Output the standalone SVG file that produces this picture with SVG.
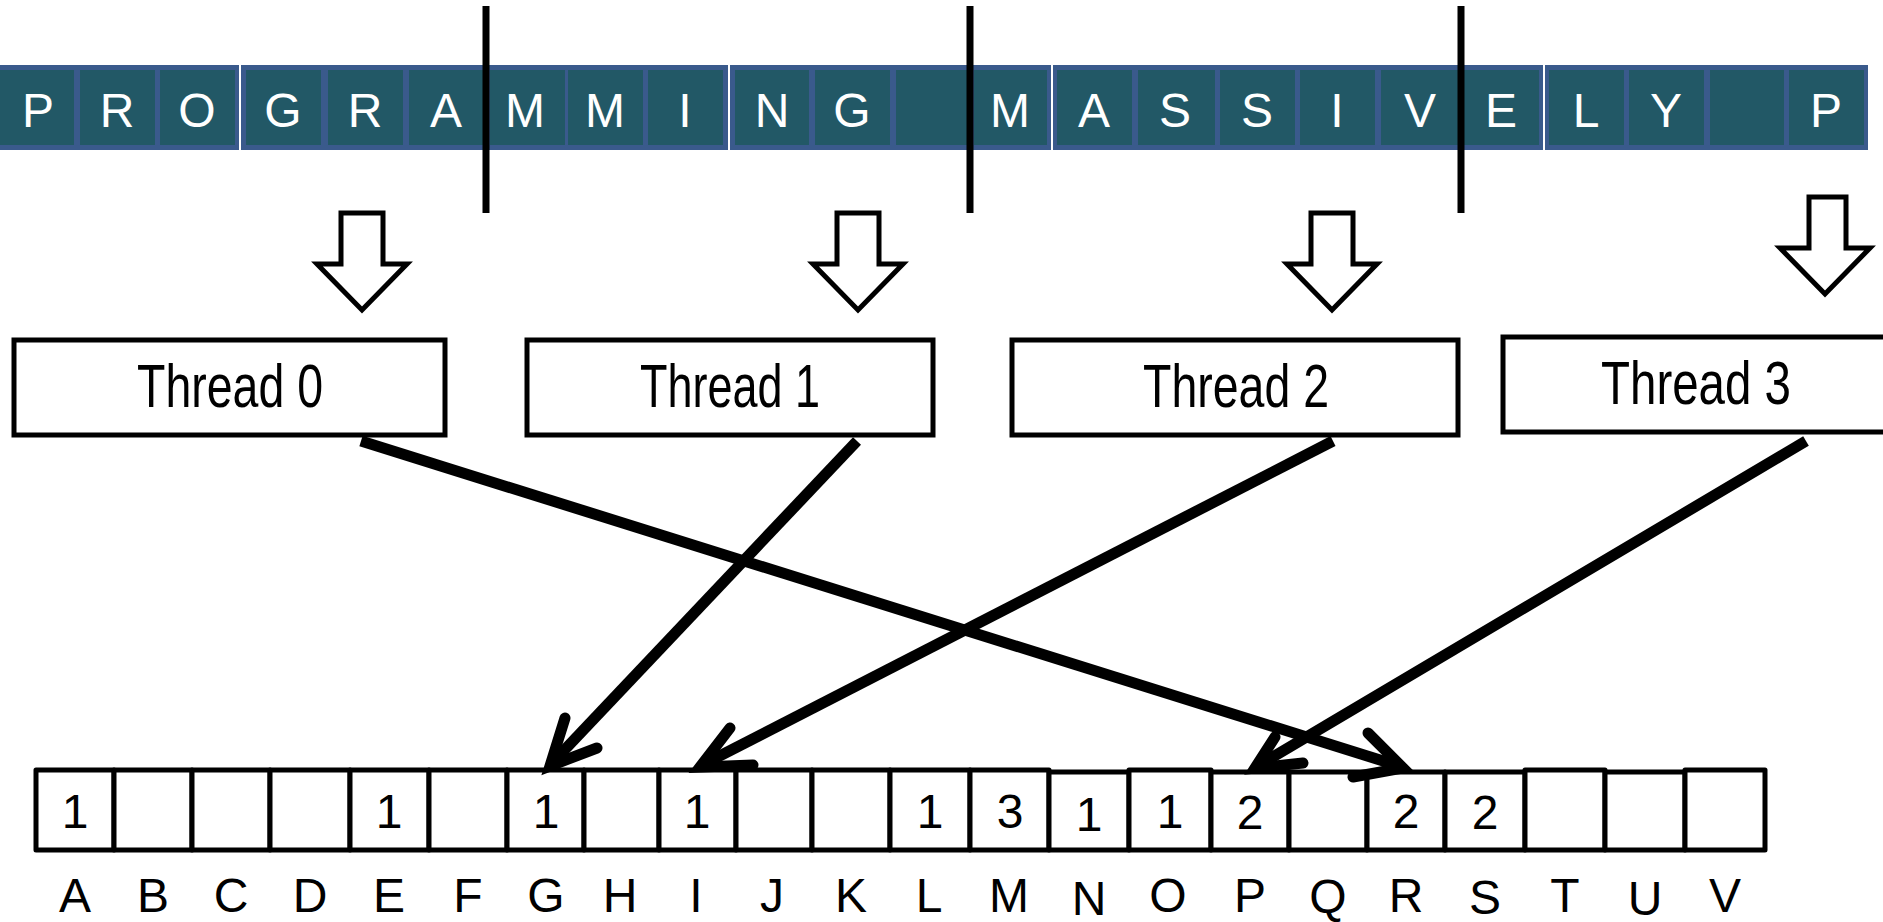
<svg xmlns="http://www.w3.org/2000/svg" width="1883" height="922" viewBox="0 0 1883 922">
<style>
.grp{fill:#3A5A8C}
.cell{fill:#225866}
.ct{font-family:"Liberation Sans",Arial,sans-serif;font-size:48px;fill:#ffffff;text-anchor:middle}
.div{stroke:#000;stroke-width:7}
.blk{fill:#fff;stroke:#000;stroke-width:5;stroke-linejoin:miter}
.tbox{fill:#fff;stroke:#000;stroke-width:5}
.tt{font-family:"Liberation Sans",Arial,sans-serif;font-size:61px;fill:#000;text-anchor:middle}
.line{fill:none;stroke:#000;stroke-width:11;stroke-linecap:butt}
.head{fill:none;stroke:#000;stroke-width:11;stroke-linecap:round;stroke-linejoin:miter}
.acell{fill:#fff;stroke:#000;stroke-width:5;stroke-linejoin:round}
.num{font-family:"Liberation Sans",Arial,sans-serif;font-size:48px;fill:#000;text-anchor:middle}
.lab{font-family:"Liberation Sans",Arial,sans-serif;font-size:48px;fill:#000;text-anchor:middle}
</style>
<rect width="1883" height="922" fill="#fff"/>

<g id="input-bar">
  <rect class="grp" x="-3" y="65" width="242" height="85"/>
  <rect class="grp" x="241" y="65" width="487" height="85"/>
  <rect class="grp" x="730" y="65" width="321" height="85"/>
  <rect class="grp" x="1053" y="65" width="490" height="85"/>
  <rect class="grp" x="1545" y="65" width="323" height="85"/>
  <rect class="cell" x="0" y="70" width="74" height="75"/>
  <rect class="cell" x="80" y="70" width="75" height="75"/>
  <rect class="cell" x="160" y="70" width="75" height="75"/>
  <rect class="cell" x="246" y="70" width="75" height="75"/>
  <rect class="cell" x="328" y="70" width="75" height="75"/>
  <rect class="cell" x="409" y="70" width="75" height="75"/>
  <rect class="cell" x="490" y="70" width="75" height="75"/>
  <rect class="cell" x="568" y="70" width="75" height="75"/>
  <rect class="cell" x="648" y="70" width="75" height="75"/>
  <rect class="cell" x="735" y="70" width="74" height="75"/>
  <rect class="cell" x="815" y="70" width="75" height="75"/>
  <rect class="cell" x="896" y="70" width="74" height="75"/>
  <rect class="cell" x="974" y="70" width="73" height="75"/>
  <rect class="cell" x="1057" y="70" width="75" height="75"/>
  <rect class="cell" x="1138" y="70" width="77" height="75"/>
  <rect class="cell" x="1220" y="70" width="75" height="75"/>
  <rect class="cell" x="1300" y="70" width="75" height="75"/>
  <rect class="cell" x="1381" y="70" width="77" height="75"/>
  <rect class="cell" x="1463" y="70" width="76" height="75"/>
  <rect class="cell" x="1549" y="70" width="75" height="75"/>
  <rect class="cell" x="1629" y="70" width="75" height="75"/>
  <rect class="cell" x="1710" y="70" width="74" height="75"/>
  <rect class="cell" x="1789" y="70" width="75" height="75"/>
  <text class="ct" x="38" y="127">P</text>
  <text class="ct" x="117" y="127">R</text>
  <text class="ct" x="197" y="127">O</text>
  <text class="ct" x="283" y="127">G</text>
  <text class="ct" x="365" y="127">R</text>
  <text class="ct" x="446" y="127">A</text>
  <text class="ct" x="525" y="127">M</text>
  <text class="ct" x="605" y="127">M</text>
  <text class="ct" x="685" y="127">I</text>
  <text class="ct" x="772" y="127">N</text>
  <text class="ct" x="852" y="127">G</text>
  <text class="ct" x="1010" y="127">M</text>
  <text class="ct" x="1094" y="127">A</text>
  <text class="ct" x="1175" y="127">S</text>
  <text class="ct" x="1257" y="127">S</text>
  <text class="ct" x="1337" y="127">I</text>
  <text class="ct" x="1420" y="127">V</text>
  <text class="ct" x="1501" y="127">E</text>
  <text class="ct" x="1586" y="127">L</text>
  <text class="ct" x="1666" y="127">Y</text>
  <text class="ct" x="1826" y="127">P</text>
</g>

<g id="dividers">
  <line class="div" x1="486" y1="6" x2="486" y2="213"/>
  <line class="div" x1="970" y1="6" x2="970" y2="213"/>
  <line class="div" x1="1461" y1="6" x2="1461" y2="213"/>
</g>

<g id="block-arrows">
  <path class="blk" d="M341,213 H383 V264 H407 L362,310 L317,264 H341 Z"/>
  <path class="blk" d="M837,213 H879 V264 H903 L858,310 L813,264 H837 Z"/>
  <path class="blk" d="M1311,213 H1353 V264 H1377 L1332,310 L1287,264 H1311 Z"/>
  <path class="blk" d="M1809,197 H1846 V248 H1870 L1825,294 L1780,248 H1809 Z"/>
</g>

<g id="thread0">
  <rect class="tbox" x="14" y="340" width="431" height="95"/>
  <text class="tt" x="230" y="407" textLength="186" lengthAdjust="spacingAndGlyphs">Thread 0</text>
</g>
<g id="thread1">
  <rect class="tbox" x="527" y="340" width="406" height="95"/>
  <text class="tt" x="730" y="407" textLength="180" lengthAdjust="spacingAndGlyphs">Thread 1</text>
</g>
<g id="thread2">
  <rect class="tbox" x="1012" y="340" width="446" height="95"/>
  <text class="tt" x="1236" y="407" textLength="186" lengthAdjust="spacingAndGlyphs">Thread 2</text>
</g>
<g id="thread3">
  <rect class="tbox" x="1503" y="337" width="400" height="95"/>
  <text class="tt" x="1696" y="404" textLength="190" lengthAdjust="spacingAndGlyphs">Thread 3</text>
</g>

<g id="histogram">
  <rect class="acell" x="36" y="770" width="78" height="80"/>
  <rect class="acell" x="114" y="770" width="78" height="80"/>
  <rect class="acell" x="192" y="770" width="78" height="80"/>
  <rect class="acell" x="270" y="770" width="80" height="80"/>
  <rect class="acell" x="350" y="770" width="79" height="80"/>
  <rect class="acell" x="429" y="770" width="78" height="80"/>
  <rect class="acell" x="507" y="770" width="77" height="80"/>
  <rect class="acell" x="584" y="770" width="75" height="80"/>
  <rect class="acell" x="659" y="770" width="77" height="80"/>
  <rect class="acell" x="736" y="770" width="76" height="80"/>
  <rect class="acell" x="812" y="770" width="78" height="80"/>
  <rect class="acell" x="890" y="770" width="80" height="80"/>
  <rect class="acell" x="970" y="770" width="79" height="80"/>
  <rect class="acell" x="1049" y="772" width="80" height="78"/>
  <rect class="acell" x="1129" y="770" width="82" height="80"/>
  <rect class="acell" x="1211" y="772" width="78" height="78"/>
  <rect class="acell" x="1289" y="772" width="78" height="78"/>
  <rect class="acell" x="1367" y="772" width="78" height="78"/>
  <rect class="acell" x="1445" y="772" width="80" height="78"/>
  <rect class="acell" x="1525" y="770" width="80" height="80"/>
  <rect class="acell" x="1605" y="772" width="80" height="78"/>
  <rect class="acell" x="1685" y="770" width="80" height="80"/>
  <text class="num" x="75" y="828">1</text>
  <text class="num" x="389" y="828">1</text>
  <text class="num" x="546" y="828">1</text>
  <text class="num" x="697" y="828">1</text>
  <text class="num" x="930" y="828">1</text>
  <text class="num" x="1010" y="828">3</text>
  <text class="num" x="1089" y="831">1</text>
  <text class="num" x="1170" y="828">1</text>
  <text class="num" x="1250" y="829">2</text>
  <text class="num" x="1406" y="828">2</text>
  <text class="num" x="1485" y="829">2</text>
  <text class="lab" x="75" y="912">A</text>
  <text class="lab" x="153" y="912">B</text>
  <text class="lab" x="231" y="912">C</text>
  <text class="lab" x="310" y="912">D</text>
  <text class="lab" x="389" y="912">E</text>
  <text class="lab" x="468" y="912">F</text>
  <text class="lab" x="546" y="912">G</text>
  <text class="lab" x="620" y="912">H</text>
  <text class="lab" x="696" y="912">I</text>
  <text class="lab" x="772" y="912">J</text>
  <text class="lab" x="851" y="912">K</text>
  <text class="lab" x="929" y="912">L</text>
  <text class="lab" x="1009" y="912">M</text>
  <text class="lab" x="1089" y="915">N</text>
  <text class="lab" x="1168" y="912">O</text>
  <text class="lab" x="1250" y="912">P</text>
  <text class="lab" x="1328" y="913">Q</text>
  <text class="lab" x="1406" y="912">R</text>
  <text class="lab" x="1485" y="914">S</text>
  <text class="lab" x="1565" y="912">T</text>
  <text class="lab" x="1645" y="915">U</text>
  <text class="lab" x="1725" y="912">V</text>
</g>

<g id="connectors">
  <path class="line" d="M361,441 L1396,765"/>
  <path class="head" d="M1368,733 L1403,768 L1353,777"/>
  <path class="line" d="M857,441 L554,761"/>
  <path class="head" d="M565,718 L550,766 L597,748"/>
  <path class="line" d="M1333,441 L706,763"/>
  <path class="head" d="M730,728 L700,767 L753,765"/>
  <path class="line" d="M1806,441 L1261,764"/>
  <path class="head" d="M1275,737 L1255,768 L1303,763"/>
</g>
</svg>
